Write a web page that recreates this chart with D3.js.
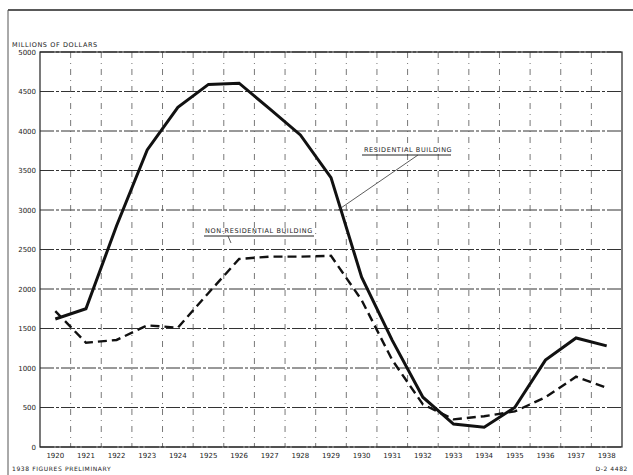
<!DOCTYPE html>
<html><head><meta charset="utf-8">
<script src="https://cdn.jsdelivr.net/npm/d3@7"></script>
<style>body{margin:0;background:#fff}svg{display:block}text{font-family:"DejaVu Sans",sans-serif;fill:#222}</style>
</head><body>
<script>
const years = ["1920","1921","1922","1923","1924","1925","1926","1927","1928","1929","1930","1931","1932","1933","1934","1935","1936","1937","1938"];
const residential = [1620,1750,2800,3760,4300,4590,4605,4280,3950,3410,2150,1350,630,290,250,500,1100,1380,1280];
const nonResidential = [1720,1320,1355,1540,1510,1950,2380,2410,2410,2420,1860,1100,540,350,390,450,630,890,750];
const yTicks = [0,500,1000,1500,2000,2500,3000,3500,4000,4500,5000];

const W=633,H=475;
const m={left:40,right:11,top:52,bottom:28};
const svg=d3.select("body").append("svg").attr("width",W).attr("height",H);
const x=d3.scaleBand().domain(years).range([m.left,W-m.right]);
const y=d3.scaleLinear().domain([0,5000]).range([H-m.bottom,m.top]);

// outer frame
svg.append("line").attr("x1",8).attr("x2",W).attr("y1",10).attr("y2",10).attr("stroke","#222").attr("stroke-width",1.5);
svg.append("line").attr("x1",8).attr("x2",8).attr("y1",10).attr("y2",H).attr("stroke","#555").attr("stroke-width",1);

// horizontal grid
svg.append("g").selectAll("line").data(yTicks).join("line")
 .attr("x1",m.left).attr("x2",W-m.right).attr("y1",d=>y(d)).attr("y2",d=>y(d))
 .attr("stroke","#333").attr("stroke-width",1).attr("stroke-dasharray","14,2,3,2");
// vertical grid at band boundaries
svg.append("g").selectAll("line").data(years.slice(1)).join("line")
 .attr("x1",d=>x(d)).attr("x2",d=>x(d)).attr("y1",m.top).attr("y2",H-m.bottom)
 .attr("stroke","#555").attr("stroke-width",0.8).attr("stroke-dasharray","6,5,1,5");
// plot border
svg.append("rect").attr("x",m.left).attr("y",m.top).attr("width",W-m.right-m.left).attr("height",H-m.bottom-m.top)
 .attr("fill","none").attr("stroke","#222").attr("stroke-width",1.2);

// axes
const ya=svg.append("g").attr("transform",`translate(${m.left},0)`).call(d3.axisLeft(y).tickValues(yTicks).tickFormat(d3.format("d")).tickSize(0).tickPadding(4));
ya.select(".domain").remove();
ya.selectAll("text").attr("font-size",7).style("font-family","DejaVu Sans");
const xa=svg.append("g").attr("transform",`translate(0,${H-m.bottom})`).call(d3.axisBottom(x).tickSize(0).tickPadding(6));
xa.select(".domain").remove();
xa.selectAll("text").attr("font-size",7).style("font-family","DejaVu Sans");

// titles
svg.append("text").attr("x",12).attr("y",47).attr("font-size",6.5).attr("letter-spacing",0.6).text("MILLIONS OF DOLLARS");
svg.append("text").attr("x",12).attr("y",471).attr("font-size",6).attr("letter-spacing",0.6).attr("fill","#666").text("1938 FIGURES PRELIMINARY");
svg.append("text").attr("x",628).attr("y",471).attr("text-anchor","end").attr("font-size",6).attr("letter-spacing",0.6).attr("fill","#666").text("D-2 4482");

const line=d3.line().x((d,i)=>x(years[i])+x.bandwidth()/2).y(d=>y(d));
svg.append("path").datum(nonResidential).attr("d",line).attr("fill","none").attr("stroke","#111").attr("stroke-width",2.4).attr("stroke-dasharray","9,5");
svg.append("path").datum(residential).attr("d",line).attr("fill","none").attr("stroke","#111").attr("stroke-width",3).attr("stroke-linejoin","miter");

// labels
svg.append("text").attr("x",364).attr("y",152).attr("font-size",6.5).attr("letter-spacing",0.6).text("RESIDENTIAL BUILDING");
svg.append("line").attr("x1",362).attr("x2",451).attr("y1",155).attr("y2",155).attr("stroke","#222").attr("stroke-width",1);
svg.append("line").attr("x1",418).attr("x2",338).attr("y1",155).attr("y2",210).attr("stroke","#333").attr("stroke-width",0.8);
svg.append("text").attr("x",205).attr("y",233).attr("font-size",6.5).attr("letter-spacing",0.6).text("NON-RESIDENTIAL BUILDING");
svg.append("line").attr("x1",204).attr("x2",314).attr("y1",236).attr("y2",236).attr("stroke","#222").attr("stroke-width",1);
svg.append("line").attr("x1",228).attr("x2",231).attr("y1",236).attr("y2",243).attr("stroke","#333").attr("stroke-width",0.8);
</script>
</body></html>
